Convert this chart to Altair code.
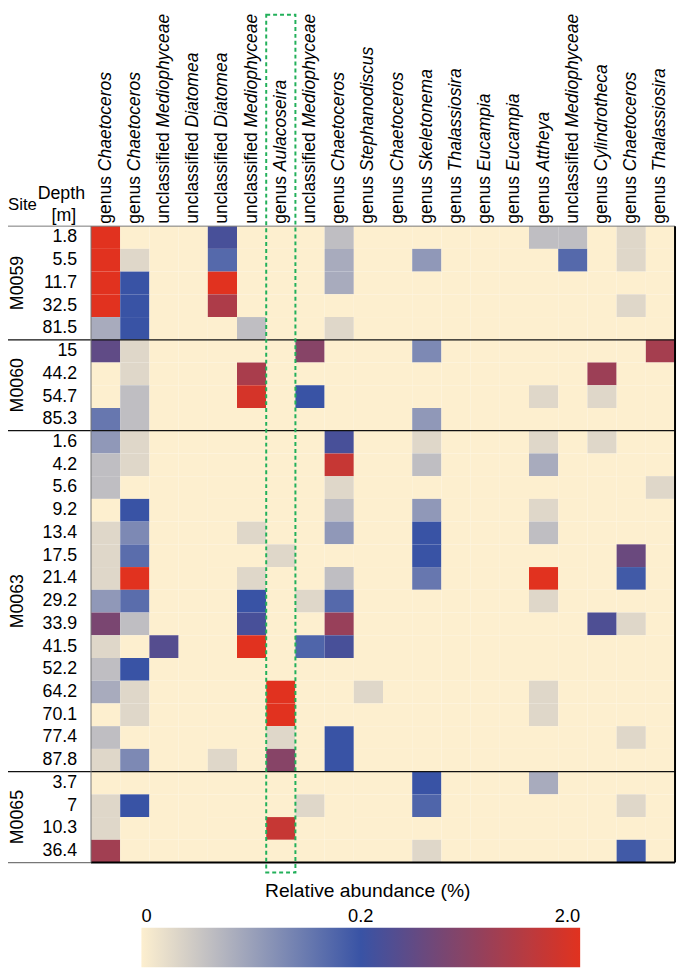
import altair as alt
import pandas as pd

FONT = "Liberation Sans"

# ---- categories ----
taxa_prefix = ["genus", "genus", "unclassified", "unclassified", "unclassified",
               "unclassified", "genus", "unclassified", "genus", "genus",
               "genus", "genus", "genus", "genus", "genus",
               "genus", "unclassified", "genus", "genus", "genus"]
taxa_name = ["Chaetoceros", "Chaetoceros", "Mediophyceae", "Diatomea", "Diatomea",
             "Mediophyceae", "Aulacoseira", "Mediophyceae", "Chaetoceros", "Stephanodiscus",
             "Chaetoceros", "Skeletonema", "Thalassiosira", "Eucampia", "Eucampia",
             "Attheya", "Mediophyceae", "Cylindrotheca", "Chaetoceros", "Thalassiosira"]
highlight_col = 6  # genus Aulacoseira

site_names = ["M0059", "M0060", "M0063", "M0065"]
depths_m0059 = ["1.8", "5.5", "11.7", "32.5", "81.5"]
depths_m0060 = ["15", "44.2", "54.7", "85.3"]
depths_m0063 = ["1.6", "4.2", "5.6", "9.2", "13.4", "17.5", "21.4", "29.2",
                "33.9", "41.5", "52.2", "64.2", "70.1", "77.4", "87.8"]
depths_m0065 = ["3.7", "7", "10.3", "36.4"]

# ---- relative abundance (%) per sample, one value per taxon column ----
values_m0059 = [
    [2.0, 0, 0, 0, 0.25, 0, 0, 0, 0.025, 0, 0, 0, 0, 0, 0, 0.025, 0.025, 0, 0.01, 0],
    [2.0, 0.01, 0, 0, 0.14, 0, 0, 0, 0.04, 0, 0, 0.06, 0, 0, 0, 0, 0.14, 0, 0.01, 0],
    [2.0, 0.2, 0, 0, 2.0, 0, 0, 0, 0.04, 0, 0, 0, 0, 0, 0, 0, 0, 0, 0, 0],
    [2.0, 0.2, 0, 0, 1.0, 0, 0, 0, 0, 0, 0, 0, 0, 0, 0, 0, 0, 0, 0.01, 0],
    [0.04, 0.2, 0, 0, 0, 0.025, 0, 0, 0.01, 0, 0, 0, 0, 0, 0, 0, 0, 0, 0, 0],
]
values_m0060 = [
    [0.35, 0.01, 0, 0, 0, 0, 0, 0.6, 0, 0, 0, 0.08, 0, 0, 0, 0, 0, 0, 0, 0.9],
    [0, 0.01, 0, 0, 0, 0.95, 0, 0, 0, 0, 0, 0, 0, 0, 0, 0, 0, 0.8, 0, 0],
    [0, 0.025, 0, 0, 0, 1.7, 0, 0.2, 0, 0, 0, 0, 0, 0, 0, 0.01, 0, 0.01, 0, 0],
    [0.11, 0.025, 0, 0, 0, 0, 0, 0, 0, 0, 0, 0.06, 0, 0, 0, 0, 0, 0, 0, 0],
]
values_m0063 = [
    [0.06, 0.01, 0, 0, 0, 0, 0, 0, 0.25, 0, 0, 0.01, 0, 0, 0, 0.01, 0, 0.01, 0, 0],
    [0.025, 0.01, 0, 0, 0, 0, 0, 0, 1.4, 0, 0, 0.025, 0, 0, 0, 0.04, 0, 0, 0, 0],
    [0.025, 0, 0, 0, 0, 0, 0, 0, 0.01, 0, 0, 0, 0, 0, 0, 0, 0, 0, 0, 0.01],
    [0, 0.2, 0, 0, 0, 0, 0, 0, 0.025, 0, 0, 0.06, 0, 0, 0, 0.01, 0, 0, 0, 0],
    [0.01, 0.08, 0, 0, 0, 0.01, 0, 0, 0.06, 0, 0, 0.2, 0, 0, 0, 0.025, 0, 0, 0, 0],
    [0.01, 0.13, 0, 0, 0, 0, 0.01, 0, 0, 0, 0, 0.2, 0, 0, 0, 0, 0, 0, 0.4, 0],
    [0.01, 2.0, 0, 0, 0, 0.01, 0, 0, 0.025, 0, 0, 0.11, 0, 0, 0, 2.0, 0, 0, 0.18, 0],
    [0.06, 0.13, 0, 0, 0, 0.2, 0, 0.01, 0.14, 0, 0, 0, 0, 0, 0, 0.01, 0, 0, 0, 0],
    [0.5, 0.025, 0, 0, 0, 0.25, 0, 0, 0.75, 0, 0, 0, 0, 0, 0, 0, 0, 0.27, 0.01, 0],
    [0.01, 0, 0.3, 0, 0, 2.0, 0, 0.15, 0.25, 0, 0, 0, 0, 0, 0, 0, 0, 0, 0, 0],
    [0.025, 0.2, 0, 0, 0, 0, 0, 0, 0, 0, 0, 0, 0, 0, 0, 0, 0, 0, 0, 0],
    [0.04, 0.01, 0, 0, 0, 0, 2.0, 0, 0, 0.01, 0, 0, 0, 0, 0, 0.01, 0, 0, 0, 0],
    [0, 0.01, 0, 0, 0, 0, 2.0, 0, 0, 0, 0, 0, 0, 0, 0, 0.01, 0, 0, 0, 0],
    [0.025, 0, 0, 0, 0, 0, 0.01, 0, 0.2, 0, 0, 0, 0, 0, 0, 0, 0, 0, 0.01, 0],
    [0.01, 0.08, 0, 0, 0.01, 0, 0.6, 0, 0.2, 0, 0, 0, 0, 0, 0, 0, 0, 0, 0, 0],
]
values_m0065 = [
    [0, 0, 0, 0, 0, 0, 0, 0, 0, 0, 0, 0.2, 0, 0, 0, 0.04, 0, 0, 0, 0],
    [0.01, 0.2, 0, 0, 0, 0, 0, 0.01, 0, 0, 0, 0.15, 0, 0, 0, 0, 0, 0, 0.01, 0],
    [0.01, 0, 0, 0, 0, 0, 1.4, 0, 0, 0, 0, 0, 0, 0, 0, 0, 0, 0, 0, 0],
    [0.85, 0, 0, 0, 0, 0, 0, 0, 0, 0, 0, 0.01, 0, 0, 0, 0, 0, 0, 0.18, 0],
]

color_ticks = [0, 0.2, 2.0]
color_stops = ["#fdefcf", "#3953a5", "#e1321f"]
color_title = "Relative abundance (%)"

# ---- build tables ----
site_depths = [depths_m0059, depths_m0060, depths_m0063, depths_m0065]
site_values = [values_m0059, values_m0060, values_m0063, values_m0065]

cells, rows, sites, bounds = [], [], [], []
r = 0
for s, (name, deps, vals) in enumerate(zip(site_names, site_depths, site_values)):
    start = r
    for d, row in zip(deps, vals):
        rows.append({"depth": d, "yc": r + 0.5})
        for c, v in enumerate(row):
            cells.append({"x0": c, "x1": c + 1, "y0": r, "y1": r + 1, "v": v,
                          "taxon": taxa_prefix[c] + " " + taxa_name[c],
                          "site": name, "depth": d})
        r += 1
    sites.append({"site": name, "yc": (start + r) / 2})
    if s < len(site_names) - 1:
        bounds.append({"yb": r})
n_rows = r
n_cols = len(taxa_name)

cells_df = pd.DataFrame(cells)
rows_df = pd.DataFrame(rows)
sites_df = pd.DataFrame(sites)
bounds_df = pd.DataFrame(bounds)
cols_df = pd.DataFrame({"xc": [i + 0.5 for i in range(n_cols)],
                        "prefix": taxa_prefix, "name": taxa_name})
box_df = pd.DataFrame({"bx0": [highlight_col], "bx1": [highlight_col + 1]})
one = pd.DataFrame({"a": [0]})

W, H = 591, 644
FS = 17.7     # column labels
FL = 18       # row labels / headers
FG = 18.5     # colour bar
BAR_X, BAR_LEN = 51, 444

xs = alt.Scale(domain=[0, n_cols], nice=False, zero=False)
ys = alt.Scale(domain=[0, n_rows], nice=False, zero=False, reverse=True)

heat = alt.Chart(cells_df).mark_rect(strokeWidth=0).encode(
    x=alt.X("x0:Q", scale=xs, axis=None),
    x2="x1:Q",
    y=alt.Y("y0:Q", scale=ys, axis=None),
    y2="y1:Q",
    color=alt.Color(
        "v:Q",
        scale=alt.Scale(type="symlog", constant=0.025, domain=color_ticks,
                        range=color_stops, interpolate="rgb", clamp=True),
        legend=alt.Legend(
            orient="none", legendX=BAR_X, legendY=710, direction="horizontal",
            title="", padding=0,
            gradientLength=BAR_LEN, gradientThickness=40, gradientStrokeWidth=0,
            values=color_ticks,
            labelExpr="datum.value == 0 ? '0' : format(datum.value, '.1f')",
            labelFont=FONT, labelFontSize=FG, labelColor="black",
            labelOffset={"expr": "-61"}, labelOverlap=False,
        ),
    ),
)

bar_title = alt.Chart(one).mark_text(
    text=color_title, align="center", baseline="alphabetic", font=FONT,
    fontSize=19.5, color="black"
).encode(x=alt.value(BAR_X + BAR_LEN / 2 + 7), y=alt.value(679))

# column labels: plain prefix + italic name
LY = -2.5
prefix_txt = alt.Chart(cols_df).mark_text(
    angle=270, align="left", baseline="middle", font=FONT, fontSize=FS, color="black"
).encode(x=alt.X("xc:Q", scale=xs), y=alt.value(LY), text="prefix:N")

name_genus = alt.Chart(cols_df).transform_filter("datum.prefix == 'genus'").mark_text(
    angle=270, align="left", baseline="middle", font=FONT, fontSize=FS,
    fontStyle="italic", color="black", dx=3.002 * FS
).encode(x=alt.X("xc:Q", scale=xs), y=alt.value(LY), text="name:N")

name_uncl = alt.Chart(cols_df).transform_filter("datum.prefix == 'unclassified'").mark_text(
    angle=270, align="left", baseline="middle", font=FONT, fontSize=FS,
    fontStyle="italic", color="black", dx=5.502 * FS
).encode(x=alt.X("xc:Q", scale=xs), y=alt.value(LY), text="name:N")

depth_txt = alt.Chart(rows_df).mark_text(
    align="right", baseline="middle", font=FONT, fontSize=FL, color="black"
).encode(x=alt.value(-14), y=alt.Y("yc:Q", scale=ys), text="depth:N")

site_txt = alt.Chart(sites_df).mark_text(
    angle=270, align="center", baseline="middle", font=FONT, fontSize=FL, color="black"
).encode(x=alt.value(-74), y=alt.Y("yc:Q", scale=ys), text="site:N")

hdr_site = alt.Chart(one).mark_text(
    text="Site", align="left", baseline="alphabetic", font=FONT, fontSize=17, color="black"
).encode(x=alt.value(-84), y=alt.value(-16))
hdr_depth = alt.Chart(one).mark_text(
    text="Depth", align="right", baseline="alphabetic", font=FONT, fontSize=FL, color="black"
).encode(x=alt.value(-6), y=alt.value(-27))
hdr_m = alt.Chart(one).mark_text(
    text="[m]", align="right", baseline="alphabetic", font=FONT, fontSize=FL, color="black"
).encode(x=alt.value(-15), y=alt.value(-5))

# frame and separators
dividers = alt.Chart(bounds_df).mark_rule(color="#111111", strokeWidth=1.3).encode(
    y=alt.Y("yb:Q", scale=ys), x=alt.value(-84), x2=alt.value(W))
top_line = alt.Chart(one).mark_rule(color="#777777", strokeWidth=1).encode(
    y=alt.value(0), x=alt.value(-84), x2=alt.value(W))
bottom_left = alt.Chart(one).mark_rule(color="#777777", strokeWidth=1.2).encode(
    y=alt.value(H), x=alt.value(-84), x2=alt.value(0))
bottom_line = alt.Chart(one).mark_rule(color="#000000", strokeWidth=2).encode(
    y=alt.value(H), x=alt.value(0), x2=alt.value(W))
left_line = alt.Chart(one).mark_rule(color="#777777", strokeWidth=1).encode(
    x=alt.value(0), y=alt.value(0), y2=alt.value(H))
right_line = alt.Chart(one).mark_rule(color="#000000", strokeWidth=2).encode(
    x=alt.value(W), y=alt.value(0), y2=alt.value(H))

box = alt.Chart(box_df).mark_rect(
    fillOpacity=0, stroke="#22b05a", strokeWidth=2, strokeDash=[4, 3]
).encode(x=alt.X("bx0:Q", scale=xs), x2="bx1:Q", y=alt.value(-214), y2=alt.value(654))

chart = alt.layer(
    heat, dividers, top_line, bottom_left, bottom_line, left_line, right_line,
    prefix_txt, name_genus, name_uncl, depth_txt, site_txt,
    hdr_site, hdr_depth, hdr_m, box, bar_title,
).properties(
    width=W, height=H,
    autosize=alt.AutoSizeParams(type="none"),
    padding={"left": 84, "top": 215, "right": 2, "bottom": 104},
    background="white",
).configure_view(strokeWidth=0)

chart.save("out.html", embed_options={"renderer": "svg", "actions": False})
